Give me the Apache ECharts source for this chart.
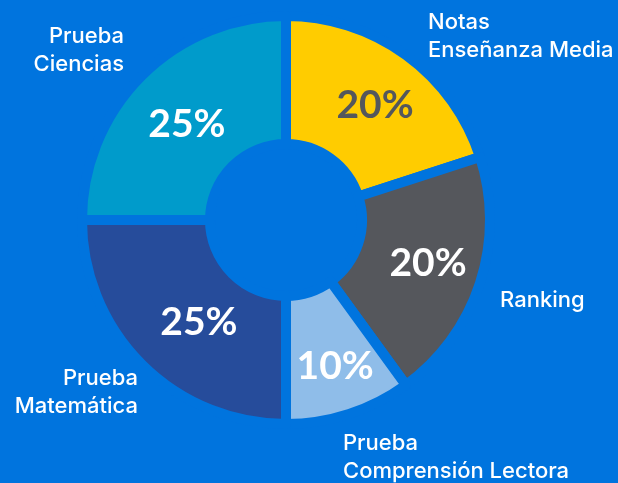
<!DOCTYPE html>
<html>
<head>
<meta charset="utf-8">
<script src="https://cdn.jsdelivr.net/npm/echarts@6/dist/echarts.min.js"></script>
<style>
    html, body { margin: 0; padding: 0; background: #0074de; }
    #chart-pie-01 { width: 618px; height: 483px; }
</style>
</head>
<body>
<div id="chart-pie-01"></div>
<script>
// 数据
var categories = ['Notas\nEnseñanza Media', 'Ranking', 'Prueba\nComprensión Lectora', 'Prueba\nMatemática', 'Prueba\nCiencias'];
var percents = [20, 20, 10, 25, 25];
var sliceColors = ['#ffcc00', '#55575c', '#8fbde9', '#264c9b', '#009bcb'];
var percentColors = ['#54575c', '#ffffff', '#ffffff', '#ffffff', '#ffffff'];

// 外部标签位置
var outerLabelPos = [
    { x: 428, y: 36, align: 'left' },
    { x: 500, y: 300, align: 'left' },
    { x: 343, y: 457, align: 'left' },
    { x: 138, y: 392, align: 'right' },
    { x: 124, y: 50, align: 'right' }
];
var innerLabelShift = [[5, 1], [6, -1], [5, 10], [14, 1], [2, 6]];

function getChartsPie() {
    var chartpie1 = echarts.init(document.getElementById('chart-pie-01'));

    var pieData = categories.map(function (name, i) {
        return {
            name: name,
            value: percents[i],
            itemStyle: { color: sliceColors[i] },
            label: { color: percentColors[i] }
        };
    });

    var option = {
        backgroundColor: '#0074de',
        animation: false,
        series: [{
            type: 'pie',
            center: [286, 220],
            radius: [76, 204],
            startAngle: 90,
            silent: true,
            itemStyle: {
                borderColor: '#0074de',
                borderWidth: 10
            },
            label: {
                show: true,
                position: 'inside',
                formatter: '{c}%',
                fontFamily: 'Lato',
                fontWeight: 'bold',
                fontSize: 39
            },
            labelLayout: function (params) {
                var s = innerLabelShift[params.dataIndex];
                return { dx: s[0], dy: s[1] };
            },
            labelLine: { show: false },
            data: pieData
        }, {
            type: 'pie',
            center: [286, 220],
            radius: [76, 204],
            startAngle: 90,
            silent: true,
            itemStyle: { color: 'transparent' },
            label: {
                show: true,
                position: 'outside',
                formatter: '{b}',
                color: '#ffffff',
                fontFamily: 'Inter',
                fontWeight: 500,
                fontSize: 22,
                lineHeight: 28,
                overflow: 'none'
            },
            labelLine: { show: false },
            labelLayout: function (params) {
                var p = outerLabelPos[params.dataIndex];
                return { x: p.x, y: p.y, align: p.align, verticalAlign: 'middle' };
            },
            data: categories.map(function (name, i) {
                return { name: name, value: percents[i] };
            })
        }]
    };

    chartpie1.setOption(option);
}

getChartsPie();
</script>
</body>
</html>
